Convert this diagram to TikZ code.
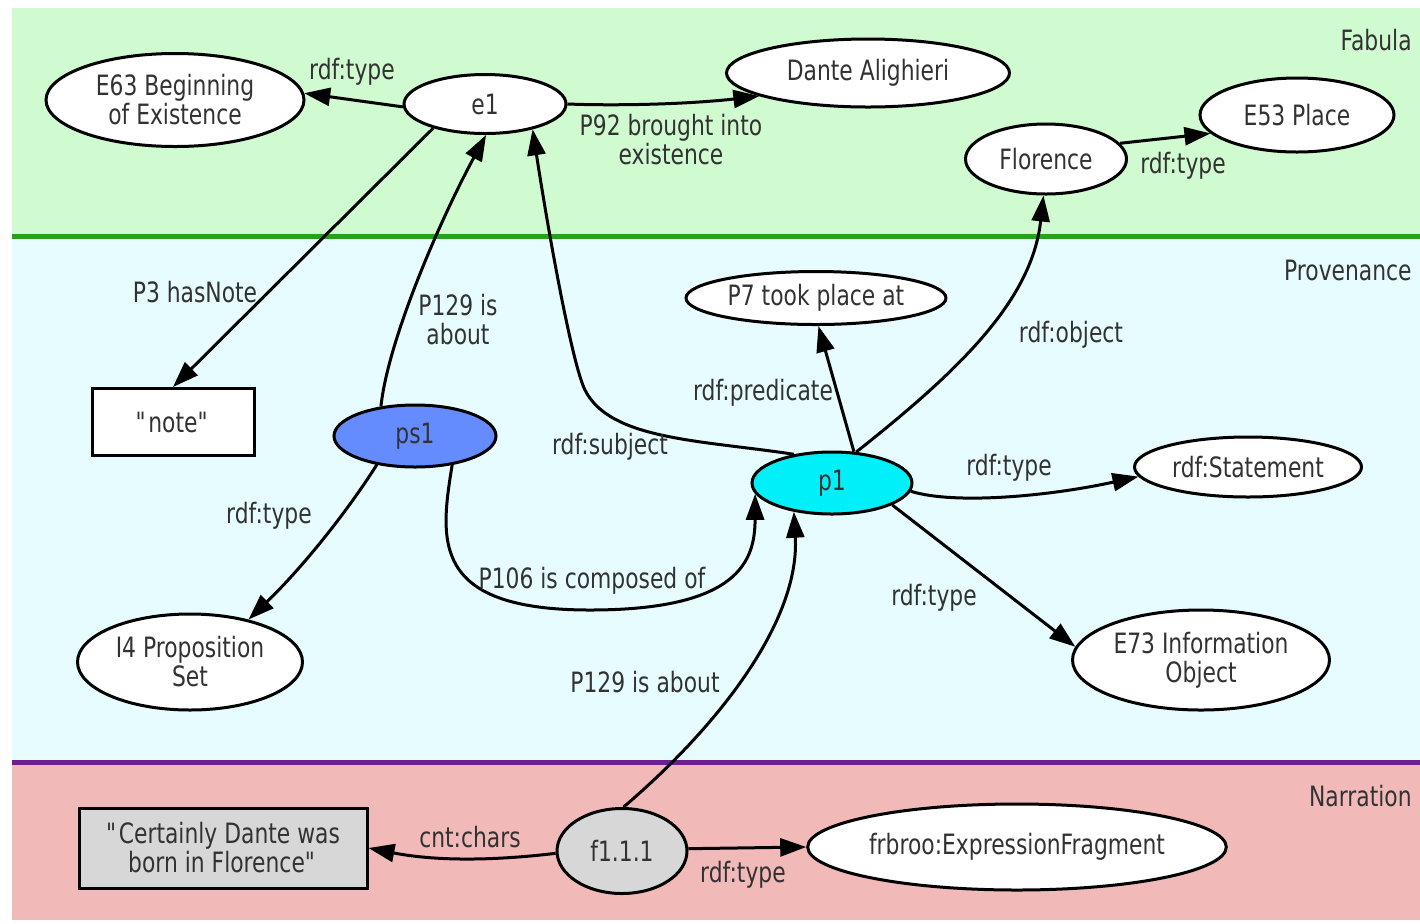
\documentclass[tikz,border=0pt]{standalone}
\usepackage{fontspec}
\setmainfont{DejaVu Sans}[FakeStretch=0.78]
\usetikzlibrary{shapes.geometric,arrows.meta}
\definecolor{bandgreen}{RGB}{208,250,208}
\definecolor{linegreen}{RGB}{40,160,30}
\definecolor{bandcyan}{RGB}{230,252,255}
\definecolor{linepurple}{RGB}{110,30,145}
\definecolor{bandpink}{RGB}{242,185,185}
\definecolor{psblue}{RGB}{100,140,255}
\definecolor{pcyan}{RGB}{0,240,250}
\definecolor{boxgray}{RGB}{215,215,215}
\definecolor{txt}{RGB}{50,50,50}
\tikzset{
  ell/.style={ellipse,draw=black,line width=1.5pt,fill=white,inner sep=0pt,text=txt,align=center,
    font=\fontsize{14}{14.5}\selectfont},
  rbox/.style={rectangle,draw=black,line width=1.5pt,fill=white,inner sep=0pt,text=txt,align=center,
    font=\fontsize{14}{14.5}\selectfont},
  lbl/.style={text=txt,align=center,inner sep=0pt,font=\fontsize{14}{14.5}\selectfont},
  band/.style={text=txt,inner sep=0pt,anchor=east,font=\fontsize{14}{14.5}\selectfont},
  arr/.style={line width=1.5pt,draw=black,-{Triangle[length=13pt,width=9pt]}},
}
\begin{document}
\begin{tikzpicture}[x=0.5pt,y=-0.5pt]
\useasboundingbox (0,0) rectangle (1420,923);
% bands
\fill[bandgreen] (12,8) rectangle (1420,236);
\fill[bandcyan] (12,236) rectangle (1420,762);
\fill[bandpink] (12,762) rectangle (1420,920);
\draw[linegreen,line width=2.5pt] (12,236) -- (1420,236);
\draw[linepurple,line width=2.5pt] (12,762) -- (1420,762);
\node[band] (fab) at (1412,40) {Fabula};
\node[band] (prov) at (1412,270) {Provenance};
\node[band] (narr) at (1412,796) {Narration};
% nodes
\node[ell,minimum width=129pt,minimum height=46.5pt] (E63) at (175,100) {E63 Beginning\\of Existence};
\node[ell,minimum width=81pt,minimum height=29.5pt] (e1) at (485,104) {e1};
\node[ell,minimum width=141.5pt,minimum height=34pt] (dante) at (868,73) {Dante Alighieri};
\node[ell,minimum width=80.5pt,minimum height=35pt] (flo) at (1046,159) {Florence};
\node[ell,minimum width=97pt,minimum height=37pt] (E53) at (1297,115) {E53 Place};
\node[rbox,minimum width=81pt,minimum height=33.5pt] (note) at (173,422) {\textquotedbl note\textquotedbl};
\node[ell,fill=psblue,minimum width=81pt,minimum height=31pt] (ps1) at (415,436) {ps1};
\node[ell,minimum width=130pt,minimum height=26.5pt] (P7) at (816,298) {P7 took place at};
\node[ell,fill=pcyan,minimum width=80pt,minimum height=31pt] (p1) at (832,483) {p1};
\node[ell,minimum width=113.5pt,minimum height=30pt] (stmt) at (1248,467) {rdf:Statement};
\node[ell,minimum width=112.5pt,minimum height=48pt] (I4) at (190,662) {I4 Proposition\\Set};
\node[ell,minimum width=128.5pt,minimum height=50pt] (E73) at (1201,660) {E73 Information\\Object};
\node[rbox,fill=boxgray,minimum width=144pt,minimum height=40pt] (cert) at (223,848) {\textquotedbl Certainly Dante was\\born in Florence\textquotedbl};
\node[ell,fill=boxgray,minimum width=65pt,minimum height=42.5pt] (f1) at (622,851) {f1.1.1};
\node[ell,minimum width=209pt,minimum height=43pt] (frb) at (1017,847) {frbroo:ExpressionFragment};
% edges
\draw[arr] (e1.182) -- (E63.3);
\node[lbl] (l1) at (352,72) {rdf:type};
\draw[arr] (e1.east) .. controls (620,106) and (690,104) .. (dante.192);
\node[lbl] (l2) at (671,140) {P92 brought into\\existence};
\draw[arr] (e1.205) -- (note.north);
\node[lbl] (l3) at (195,292) {P3 hasNote};
\draw[arr] (ps1.139) .. controls (388,340) and (440,220) .. (e1.272);
\node[lbl] (l4) at (458,320) {P129 is\\about};
\draw[arr] (p1.143) .. controls (700,440) and (610,440) .. (585,390) .. controls (572,364) and (548,230) .. (e1.-28);
\node[lbl] (l5) at (610,447) {rdf:subject};
\draw[arr] (p1.55) -- (P7.275);
\node[lbl] (l6) at (763,393) {rdf:predicate};
\draw[arr] (p1.52) .. controls (960,370) and (1032,300) .. (flo.266);
\node[lbl] (l7) at (1071,335) {rdf:object};
\draw[arr] (flo.12) -- (E53.192);
\node[lbl] (l8) at (1183,166) {rdf:type};
\draw[arr] (p1.-6) .. controls (955,505) and (1050,496) .. (stmt.185);
\node[lbl] (l9) at (1009,468) {rdf:type};
\draw[arr] (p1.-20) -- (E73.174);
\node[lbl] (l10) at (934,598) {rdf:type};
\draw[arr] (ps1.217) .. controls (345,515) and (300,570) .. (I4.36);
\node[lbl] (l11) at (269,516) {rdf:type};
\draw[arr] (ps1.-38) .. controls (440,540) and (430,610) .. (590,610) .. controls (740,610) and (755,560) .. (p1.188);
\node[lbl] (l12) at (592,581) {P106 is composed of};
\draw[arr] (f1.88) .. controls (720,725) and (800,620) .. (p1.217);
\node[lbl] (l13) at (645,682) {P129 is about};
\draw[arr] (f1.182) .. controls (500,860) and (440,862) .. (cert.east);
\node[lbl] (l14) at (470,837) {cnt:chars};
\draw[arr] (f1.2) -- (frb.west);
\node[lbl] (l15) at (743,875) {rdf:type};
\end{tikzpicture}
\end{document}
